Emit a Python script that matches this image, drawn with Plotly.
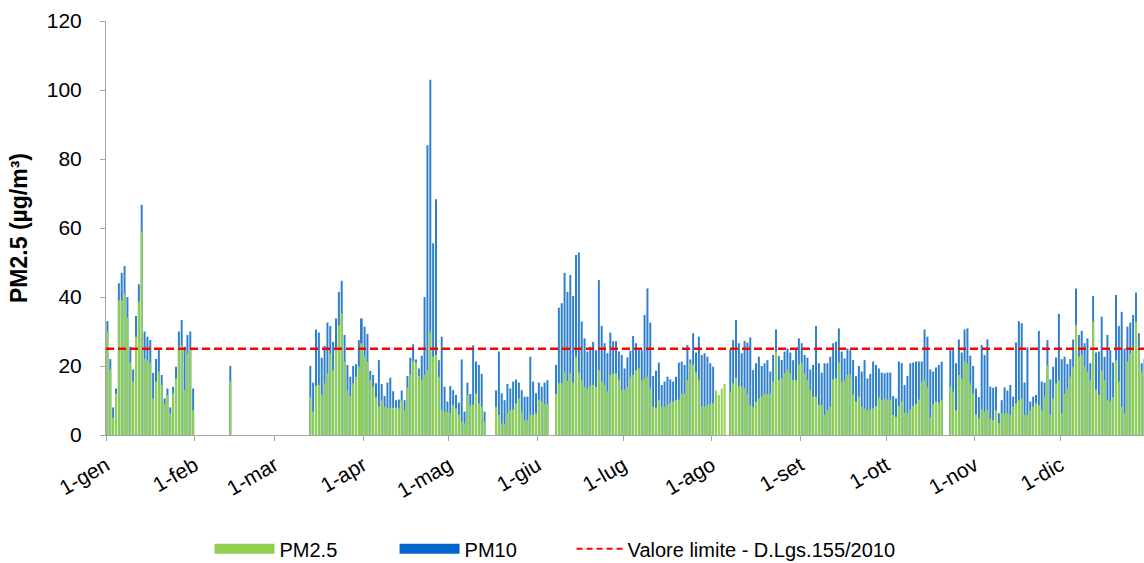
import plotly.graph_objects as go

N = None
# Daily values, one list per month (µg/m³); None = no data
pm10_gen = [33, 22, 8, 13.5, 44, 47, 49, 40, 25.6, 19, 34.5, 43.7, 66.7, 30, 28.5, 27.5, 18, 22, 24.6, 17.4, 10.6, 13.5, 8, 14, 19.8, 30, 33.3, 25.6, 29, 30, 13.5]
pm25_gen = [30, 19, 5, 12, 39, 39, 41, 34, 21, 15.5, 28.5, 38.6, 59, 22, 21.7, 21, 10.6, 15.5, 18.4, 14.5, 9, 11.6, 6.3, 12, 16.4, 25.6, 26, 13, 23.7, 24.6, 7.2]
pm10_feb = [N]*12 + [20] + [N]*15
pm25_feb = [N]*12 + [15.5] + [N]*15
pm10_mar = [N]*12 + [20, 15.2, 30.6, 29.7, 22.4, 25.8, 32.6, 31.6, 27, 33.8, 41.5, 44.7, 29, 20.3, 16.9, 20, 20.5, 27.5, 33.8]
pm25_mar = [N]*12 + [11, 6.8, 14.3, 14.5, 11.6, 15, 17.9, 23.7, 18.8, 24.6, 31.9, 35.3, 21.3, 13, 11.3, 15, 16.9, 19.8, 26.6]
pm10_apr = [31.4, 29.3, 18.6, 17.4, 15, 21.7, 14.8, 11.3, 15.2, 16.6, 12.7, 10.1, 10.3, 12.9, 10.1, 17.1, 22.4, 26.3, 21.9, 19.3, 23, 40, 84, 103, 55.6, 68.3, 21.7, 28.5, 14, 9.7]
pm25_apr = [22.7, 21.3, 15.9, 14, 11, 8.2, 10, 8.2, 7.9, 7.9, 7.9, 7.9, 7.7, 10, 7.2, 13.8, 17.6, 21.4, 21, 17.1, 16, 17.4, 18.8, 30, 22.7, 23.2, 16.9, 7.2, 6.8, 6.8]
pm10_mag = [14.2, 13, 11.6, 9.4, 21.9, 6.8, 15.2, 11.9, 26, 21.3, 20.3, 17.7, 6.8, N, N, N, 12.9, 24.2, 12.1, 10.1, 14.8, 13.5, 15.5, 16.1, 15.2, 13, 11.1, 11.1, 22.7, 15.5, 12.1]
pm25_mag = [6.3, 8.7, 7.7, 5.8, 3.9, 3.4, 11.6, 8.7, 8.7, 12, 9.2, 8.2, 3.9, N, N, N, 8.2, 5.8, 3.4, 3.1, 6.5, 7.2, 7.4, 9.2, 10.6, 6.8, 4.3, 4.3, 5.8, 5.8, 6.3]
pm10_giu = [15.2, 14, 15.2, 15.9, N, N, 20.3, 36.9, 38.2, 47, 41.5, 46.4, 40.3, 52.2, 52.9, 32.9, 28, 24.2, 25.6, 27, 24.6, 44.9, 31.6, 26.6, 23.7, 29.7, 27.2, 27.2, 24.2, 23.2]
pm25_giu = [10.1, 9.7, 9, 9, N, N, 11.9, 15, 15, 18.1, 15.7, 17.9, 15.2, 22.7, 18.1, 15.9, 14, 13.5, 14.2, 14.5, 14, 18.8, 15.5, 14.5, 12.6, 17.4, 17.7, 17.9, 16.1, 13]
pm10_lug = [19.3, 22.5, 24.4, 28.7, 26.6, 24.6, 24.6, 34.8, 42.5, 32.6, 17.1, 18.6, 21, 14.5, 15.5, 16.9, 16.1, 15.5, 16.9, 21, 21.3, 20.3, 26.1, 21.9, 29.5, 23.9, 28.5, 23.2, 23.7, 22.7, 20.8]
pm25_lug = [13.2, 14, 16.9, 17.4, 18.8, 19.3, 15.9, 16.4, 16.9, 13.5, 8.2, 8, 10.1, 8.2, 8.2, 8.7, 9.4, 9.7, 10.1, 10.3, 12, 12, 15.9, 20.8, 20.3, 18.1, 15.9, 8.2, 8.2, 8.7, 9]
pm10_ago = [19.8, N, N, N, N, N, 24.8, 27.5, 33.3, 26.6, 23.7, 27.3, 26.8, 28.3, 18.8, 20.8, 22.7, 20, 20.8, 21.7, 18.4, 23.2, 30.6, 22.9, 21.7, 24.2, 25.1, 23.9, 21.7, 25.1, 28]
pm25_ago = [9.2, 12.9, 11.6, 13.5, 14.8, N, 12.6, 15, 16.6, 14.2, 14, 13.5, 12, 8.7, 8.2, 9.7, 10.6, 11.3, 12, 11.9, 12, 15.5, 24.2, 15.9, 16.4, 17.9, 19, 17.9, 15.9, 15.9, 20.5]
pm10_set = [26.6, 23.2, 22.4, 19, 20.3, 31.6, 20.8, 18.1, 20.8, 20.8, 22.7, 26.6, 27, 30.9, 24.2, 22.2, 25.1, 24.6, 21.7, 17, 20, 18.4, 21.7, 16.4, 17.7, 21.3, 20.3, 19.3, 18.1, 17.9]
pm25_set = [20.8, 17.9, 15.9, 13, 11.1, 11.1, 8.7, 8.7, 5.8, 7.2, 8.2, 16.1, 16.4, 21, 15.5, 15.9, 17.4, 17.4, 11.8, 9.7, 11.1, 8.2, 7.7, 7.2, 7.4, 7.7, 8.4, 10.9, 10.1, 10.6]
pm10_ott = [18.1, 18.1, 11.3, 10.6, 21.3, 20.8, 14.5, 17.1, 20.8, 21, 21.3, 21.3, 21.3, 30.6, 28.5, 19, 18.4, 19.6, 20.3, 21.3, N, N, 24.6, 24.6, 20.8, 27.7, 23.9, 30.6, 30.9, 23, 20]
pm25_ott = [10.3, 10.1, 5.8, 5.3, 8.4, 9.7, 6.5, 6.3, 7.4, 8.4, 9, 10.3, 15.5, 15.9, 13.8, 5.1, 9, 9.7, 9.4, 10.1, N, N, 14.2, 12.6, 7.2, 17.4, 16.4, 21.3, 20.8, 15, 12]
pm10_nov = [13.5, 11, 26.1, 23.2, 27.7, 14, 13.7, 14, 6.3, 10.1, 13.8, 12.9, 14.5, 11.1, 26.8, 33, 32.4, 15.2, 25.4, 9.7, 11.1, 11.6, 30.2, 15.5, 15.2, 27.5, 16.1, 19.8, 22.5, 35.1]
pm25_nov = [6, 4.8, 7.4, 6.8, 7.2, 4.8, 4.3, 7.2, 3.4, 6.3, 6.3, 6.3, 5.8, 8.2, 9.2, 10.1, 10.6, 5.8, 5.8, 7.2, 8.2, 9.2, 8.7, 7.2, 11.1, 20.3, 5.8, 10.6, 15, 15.9]
pm10_dic = [22, 22.7, 20.6, 22, 27.7, 42.5, 29, 30.2, 26.6, 28, 20.8, 40.3, 23.9, 24.2, 34.3, 22.7, 29, 24.6, 21, 40.6, 31.6, 35.7, 25.1, 31.4, 32.6, 34.8, 41.3, 29.5, 20.8, 22, 24]
pm25_dic = [6.3, 12, 13.5, 16.9, 19.8, 31.9, 22.7, 23.2, 19.8, 18.4, 15.9, 32.9, 13.2, 11.6, 18.6, 15.9, 10.1, 9.7, 11, 21.7, 15.5, 8.2, 6.3, 21.3, 23.7, 25.6, 32.9, 25.6, 18.4, 17, 19]

LIMIT = 25
month_labels = ["1-gen", "1-feb", "1-mar", "1-apr", "1-mag", "1-giu",
                "1-lug", "1-ago", "1-set", "1-ott", "1-nov", "1-dic"]
month_days = [31, 28, 31, 30, 31, 30, 31, 31, 30, 31, 30, 31]

pm10 = (pm10_gen + pm10_feb + pm10_mar + pm10_apr + pm10_mag + pm10_giu +
        pm10_lug + pm10_ago + pm10_set + pm10_ott + pm10_nov + pm10_dic)
pm25 = (pm25_gen + pm25_feb + pm25_mar + pm25_apr + pm25_mag + pm25_giu +
        pm25_lug + pm25_ago + pm25_set + pm25_ott + pm25_nov + pm25_dic)
days = list(range(len(pm10)))

month_starts = []
acc = 0
for d in month_days:
    month_starts.append(acc - 0.5)
    acc += d

FONT = "Arial, Liberation Sans, sans-serif"
GREEN = "#92D050"
BLUE = "#2F80CC"
GRAY = "#A6A6A6"

fig = go.Figure()
fig.add_trace(go.Bar(x=days, y=pm10, marker=dict(color=BLUE, line=dict(width=0)),
                     showlegend=False, name="PM10"))
fig.add_trace(go.Bar(x=days, y=pm25, marker=dict(color=GREEN, line=dict(width=0)),
                     showlegend=False, name="PM2.5"))
fig.add_trace(go.Scatter(x=[-0.5, len(days) - 0.5], y=[LIMIT, LIMIT], mode="lines",
                         line=dict(color="#FF0000", width=2.5, dash="8px,4px"),
                         showlegend=False, hoverinfo="skip"))
# legend proxies, each in its own legend box for exact spacing
fig.add_trace(go.Scatter(x=[None], y=[None], mode="lines", name="PM2.5",
                         line=dict(color=GREEN, width=10), legend="legend"))
fig.add_trace(go.Scatter(x=[None], y=[None], mode="lines", name="PM10",
                         line=dict(color="#0066CC", width=10), legend="legend2"))
fig.add_trace(go.Scatter(x=[None], y=[None], mode="lines",
                         name="Valore limite - D.Lgs.155/2010",
                         line=dict(color="#FF0000", width=2, dash="6px,4px"),
                         legend="legend3"))

leg_common = dict(orientation="h", xanchor="left", y=-0.275, yanchor="middle",
                  font=dict(size=20), bgcolor="rgba(0,0,0,0)")
fig.update_layout(
    width=1144, height=563,
    margin=dict(l=106, r=0, t=21, b=128, autoexpand=False),
    paper_bgcolor="white", plot_bgcolor="white",
    barmode="overlay", bargap=0.3,
    font=dict(family=FONT, size=20, color="#000000"),
    legend=dict(x=0.0997, itemwidth=60, **leg_common),
    legend2=dict(x=0.278, itemwidth=60, **leg_common),
    legend3=dict(x=0.4485, itemwidth=46, **leg_common),
)
fig.update_xaxes(
    range=[-0.5, 362.8],
    tickmode="array", tickvals=month_starts, ticktext=month_labels,
    tickangle=-30, ticks="outside", ticklen=5, tickcolor=GRAY,
    showline=True, linecolor=GRAY, linewidth=1, showgrid=False, zeroline=False,
    tickfont=dict(size=21), automargin=False, ticklabelstandoff=4,
)
fig.update_yaxes(
    range=[0, 120], tickmode="array", tickvals=[0, 20, 40, 60, 80, 100, 120],
    ticks="outside", ticklen=5, tickcolor=GRAY,
    showline=True, linecolor=GRAY, linewidth=1, showgrid=False, zeroline=False,
    tickfont=dict(size=21), ticklabelstandoff=14, automargin=False,
    title=dict(text="<b>PM2.5 (µg/m³)</b>", font=dict(size=23), standoff=12),
)

fig.write_html("out.html")
